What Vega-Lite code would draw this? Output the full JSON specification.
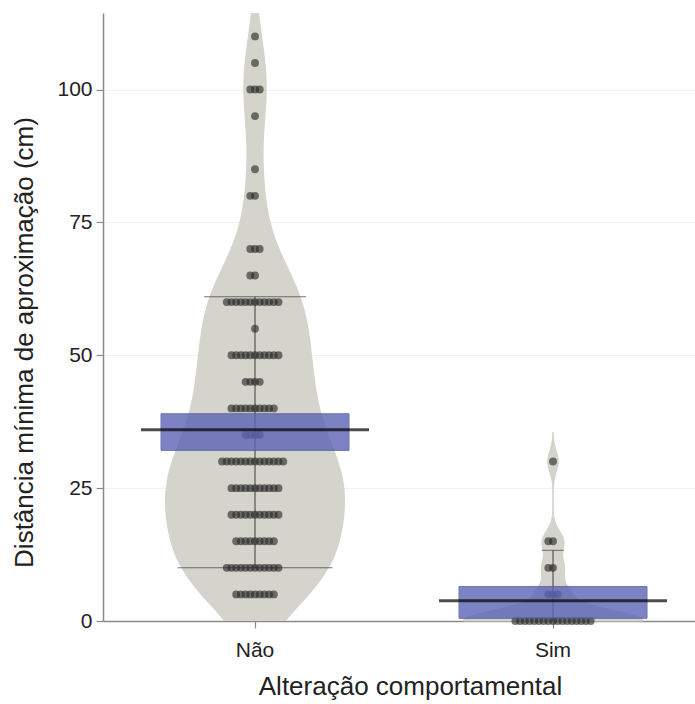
{
  "$schema": "https://vega.github.io/schema/vega-lite/v6.json",
  "autosize": "none",
  "width": 592,
  "height": 608,
  "padding": {"left": 103, "top": 13, "right": 0, "bottom": 83},
  "background": "white",
  "config": {
    "view": {"stroke": null},
    "font": "Liberation Sans"
  },
  "datasets": {
    "pontos": [
      {"grupo": "Não", "valor": 110},
      {"grupo": "Não", "valor": 105},
      {"grupo": "Não", "valor": 100}, {"grupo": "Não", "valor": 100}, {"grupo": "Não", "valor": 100},
      {"grupo": "Não", "valor": 95},
      {"grupo": "Não", "valor": 85},
      {"grupo": "Não", "valor": 80}, {"grupo": "Não", "valor": 80},
      {"grupo": "Não", "valor": 70}, {"grupo": "Não", "valor": 70}, {"grupo": "Não", "valor": 70},
      {"grupo": "Não", "valor": 65}, {"grupo": "Não", "valor": 65},
      {"grupo": "Não", "valor": 60}, {"grupo": "Não", "valor": 60}, {"grupo": "Não", "valor": 60}, {"grupo": "Não", "valor": 60},
      {"grupo": "Não", "valor": 60}, {"grupo": "Não", "valor": 60}, {"grupo": "Não", "valor": 60}, {"grupo": "Não", "valor": 60},
      {"grupo": "Não", "valor": 60}, {"grupo": "Não", "valor": 60}, {"grupo": "Não", "valor": 60}, {"grupo": "Não", "valor": 60},
      {"grupo": "Não", "valor": 55},
      {"grupo": "Não", "valor": 50}, {"grupo": "Não", "valor": 50}, {"grupo": "Não", "valor": 50}, {"grupo": "Não", "valor": 50},
      {"grupo": "Não", "valor": 50}, {"grupo": "Não", "valor": 50}, {"grupo": "Não", "valor": 50}, {"grupo": "Não", "valor": 50},
      {"grupo": "Não", "valor": 50}, {"grupo": "Não", "valor": 50}, {"grupo": "Não", "valor": 50},
      {"grupo": "Não", "valor": 45}, {"grupo": "Não", "valor": 45}, {"grupo": "Não", "valor": 45}, {"grupo": "Não", "valor": 45},
      {"grupo": "Não", "valor": 40}, {"grupo": "Não", "valor": 40}, {"grupo": "Não", "valor": 40}, {"grupo": "Não", "valor": 40},
      {"grupo": "Não", "valor": 40}, {"grupo": "Não", "valor": 40}, {"grupo": "Não", "valor": 40}, {"grupo": "Não", "valor": 40},
      {"grupo": "Não", "valor": 40}, {"grupo": "Não", "valor": 40},
      {"grupo": "Não", "valor": 35}, {"grupo": "Não", "valor": 35}, {"grupo": "Não", "valor": 35}, {"grupo": "Não", "valor": 35},
      {"grupo": "Não", "valor": 30}, {"grupo": "Não", "valor": 30}, {"grupo": "Não", "valor": 30}, {"grupo": "Não", "valor": 30},
      {"grupo": "Não", "valor": 30}, {"grupo": "Não", "valor": 30}, {"grupo": "Não", "valor": 30}, {"grupo": "Não", "valor": 30},
      {"grupo": "Não", "valor": 30}, {"grupo": "Não", "valor": 30}, {"grupo": "Não", "valor": 30}, {"grupo": "Não", "valor": 30},
      {"grupo": "Não", "valor": 30}, {"grupo": "Não", "valor": 30},
      {"grupo": "Não", "valor": 25}, {"grupo": "Não", "valor": 25}, {"grupo": "Não", "valor": 25}, {"grupo": "Não", "valor": 25},
      {"grupo": "Não", "valor": 25}, {"grupo": "Não", "valor": 25}, {"grupo": "Não", "valor": 25}, {"grupo": "Não", "valor": 25},
      {"grupo": "Não", "valor": 25}, {"grupo": "Não", "valor": 25}, {"grupo": "Não", "valor": 25},
      {"grupo": "Não", "valor": 20}, {"grupo": "Não", "valor": 20}, {"grupo": "Não", "valor": 20}, {"grupo": "Não", "valor": 20},
      {"grupo": "Não", "valor": 20}, {"grupo": "Não", "valor": 20}, {"grupo": "Não", "valor": 20}, {"grupo": "Não", "valor": 20},
      {"grupo": "Não", "valor": 20}, {"grupo": "Não", "valor": 20}, {"grupo": "Não", "valor": 20},
      {"grupo": "Não", "valor": 15}, {"grupo": "Não", "valor": 15}, {"grupo": "Não", "valor": 15}, {"grupo": "Não", "valor": 15},
      {"grupo": "Não", "valor": 15}, {"grupo": "Não", "valor": 15}, {"grupo": "Não", "valor": 15}, {"grupo": "Não", "valor": 15},
      {"grupo": "Não", "valor": 15},
      {"grupo": "Não", "valor": 10}, {"grupo": "Não", "valor": 10}, {"grupo": "Não", "valor": 10}, {"grupo": "Não", "valor": 10},
      {"grupo": "Não", "valor": 10}, {"grupo": "Não", "valor": 10}, {"grupo": "Não", "valor": 10}, {"grupo": "Não", "valor": 10},
      {"grupo": "Não", "valor": 10}, {"grupo": "Não", "valor": 10}, {"grupo": "Não", "valor": 10}, {"grupo": "Não", "valor": 10},
      {"grupo": "Não", "valor": 5}, {"grupo": "Não", "valor": 5}, {"grupo": "Não", "valor": 5}, {"grupo": "Não", "valor": 5},
      {"grupo": "Não", "valor": 5}, {"grupo": "Não", "valor": 5}, {"grupo": "Não", "valor": 5}, {"grupo": "Não", "valor": 5},
      {"grupo": "Não", "valor": 5},
      {"grupo": "Sim", "valor": 30},
      {"grupo": "Sim", "valor": 15}, {"grupo": "Sim", "valor": 15},
      {"grupo": "Sim", "valor": 10}, {"grupo": "Sim", "valor": 10},
      {"grupo": "Sim", "valor": 5}, {"grupo": "Sim", "valor": 5}, {"grupo": "Sim", "valor": 5},
      {"grupo": "Sim", "valor": 0}, {"grupo": "Sim", "valor": 0}, {"grupo": "Sim", "valor": 0}, {"grupo": "Sim", "valor": 0},
      {"grupo": "Sim", "valor": 0}, {"grupo": "Sim", "valor": 0}, {"grupo": "Sim", "valor": 0}, {"grupo": "Sim", "valor": 0},
      {"grupo": "Sim", "valor": 0}, {"grupo": "Sim", "valor": 0}, {"grupo": "Sim", "valor": 0}, {"grupo": "Sim", "valor": 0},
      {"grupo": "Sim", "valor": 0}, {"grupo": "Sim", "valor": 0}, {"grupo": "Sim", "valor": 0}, {"grupo": "Sim", "valor": 0},
      {"grupo": "Sim", "valor": 0}
    ],
    "resumo": [
      {"grupo": "Não", "media": 36.0, "li": 32.1, "ls": 39.0},
      {"grupo": "Sim", "media": 3.8, "li": 0.5, "ls": 6.5}
    ],
    "percentis": [
      {"grupo": "Não", "p10": 10, "p90": 61},
      {"grupo": "Sim", "p10": 0, "p90": 13.3}
    ]
  },
  "resolve": {"scale": {"x": "independent"}, "axis": {"x": "independent"}},
  "layer": [
    {
      "mark": {"type": "rule", "color": "#8a8a8a", "strokeWidth": 1.5},
      "encoding": {
        "x": {"datum": 0, "type": "quantitative", "scale": {"domain": [0, 1], "nice": false}, "axis": null},
        "x2": {"datum": 1},
        "y": {
          "datum": 114.4, "type": "quantitative",
          "scale": {"domain": [0, 114.4], "nice": false, "zero": true},
          "axis": {
            "title": "Distância mínima de aproximação (cm)",
            "values": [0, 25, 50, 75, 100],
            "grid": true, "gridColor": "#f2f2f2", "gridWidth": 1,
            "domainColor": "#8a8a8a", "domainWidth": 1.5,
            "tickColor": "#8a8a8a", "tickSize": 7, "tickWidth": 1.2,
            "labelFontSize": 21, "labelColor": "#222222", "labelPadding": 4,
            "titleFontSize": 26, "titleFontWeight": "normal", "titleColor": "#222222", "titlePadding": 19,
            "titleY": 329
          }
        }
      }
    },
    {
      "data": {"name": "pontos"},
      "transform": [
        {"filter": "datum.grupo == 'Não'"},
        {"density": "valor", "bandwidth": 7.5, "extent": [0, 114.4], "steps": 240}
      ],
      "mark": {"type": "area", "orient": "horizontal", "color": "#d4d4cc"},
      "encoding": {
        "y": {"field": "value", "type": "quantitative", "title": "Distância mínima de aproximação (cm)"},
        "x": {
          "field": "density", "type": "quantitative", "stack": "center",
          "scale": {"range": [62, 242], "nice": false, "zero": false},
          "axis": null
        }
      }
    },
    {
      "data": {"name": "pontos"},
      "transform": [
        {"filter": "datum.grupo == 'Sim'"},
        {"density": "valor", "bandwidth": 2, "extent": [0, 35.5], "steps": 240}
      ],
      "mark": {"type": "area", "orient": "horizontal", "color": "#d4d4cc", "stroke": "#cfcfc7", "strokeWidth": 1},
      "encoding": {
        "y": {"field": "value", "type": "quantitative", "title": "Distância mínima de aproximação (cm)"},
        "x": {
          "field": "density", "type": "quantitative", "stack": "center",
          "scale": {"range": [360, 540], "nice": false, "zero": false},
          "axis": null
        }
      }
    },
    {
      "layer": [
        {
          "data": {"name": "percentis"},
          "mark": {"type": "rule", "color": "#3a3a3a", "strokeWidth": 1},
          "encoding": {
            "x": {
              "field": "grupo", "type": "nominal",
              "scale": {"type": "band", "paddingInner": 0.7315, "paddingOuter": 0.359, "align": 0.5234},
              "axis": {
                "title": "Alteração comportamental", "labelAngle": 0,
                "domainColor": "#8a8a8a", "domainWidth": 1.5,
                "tickColor": "#8a8a8a", "tickSize": 7, "tickWidth": 1.2,
                "labelFontSize": 21, "labelColor": "#222222", "labelPadding": 11,
                "titleFontSize": 26, "titleFontWeight": "normal", "titleColor": "#222222", "titlePadding": 13,
                "titleX": 307
              }
            },
            "y": {"field": "p10", "type": "quantitative", "title": "Distância mínima de aproximação (cm)"},
            "y2": {"field": "p90"}
          }
        },
        {
          "data": {"name": "percentis"},
          "transform": [{"filter": "datum.grupo == 'Não'"}],
          "mark": {"type": "tick", "color": "#3a3a3a", "size": 102, "thickness": 1},
          "encoding": {
            "x": {"field": "grupo", "type": "nominal"},
            "y": {"field": "p90", "type": "quantitative", "title": "Distância mínima de aproximação (cm)"}
          }
        },
        {
          "data": {"name": "percentis"},
          "transform": [{"filter": "datum.grupo == 'Não'"}],
          "mark": {"type": "tick", "color": "#3a3a3a", "size": 155, "thickness": 1},
          "encoding": {
            "x": {"field": "grupo", "type": "nominal"},
            "y": {"field": "p10", "type": "quantitative", "title": "Distância mínima de aproximação (cm)"}
          }
        },
        {
          "data": {"name": "percentis"},
          "transform": [{"filter": "datum.grupo == 'Sim'"}],
          "mark": {"type": "tick", "color": "#3a3a3a", "size": 22, "thickness": 1},
          "encoding": {
            "x": {"field": "grupo", "type": "nominal"},
            "y": {"field": "p90", "type": "quantitative", "title": "Distância mínima de aproximação (cm)"}
          }
        },
        {
          "data": {"name": "pontos"},
          "transform": [
            {"window": [{"op": "row_number", "as": "ordem"}], "groupby": ["grupo", "valor"]}
          ],
          "mark": {"type": "circle", "size": 62, "color": "#2a2a2a", "opacity": 0.64},
          "encoding": {
            "x": {"field": "grupo", "type": "nominal"},
            "xOffset": {
              "field": "ordem", "type": "nominal",
              "scale": {"domain": [16, 14, 12, 10, 8, 6, 4, 2, 1, 3, 5, 7, 9, 11, 13, 15, 17]}
            },
            "y": {"field": "valor", "type": "quantitative", "title": "Distância mínima de aproximação (cm)"}
          }
        },
        {
          "data": {"name": "resumo"},
          "mark": {"type": "bar", "width": 188, "color": "#5c63b5", "opacity": 0.8, "stroke": "#4e5497", "strokeWidth": 1},
          "encoding": {
            "x": {"field": "grupo", "type": "nominal"},
            "y": {"field": "li", "type": "quantitative", "title": "Distância mínima de aproximação (cm)"},
            "y2": {"field": "ls"}
          }
        },
        {
          "data": {"name": "resumo"},
          "mark": {"type": "tick", "color": "#000000", "size": 228, "thickness": 3},
          "encoding": {
            "x": {"field": "grupo", "type": "nominal"},
            "y": {"field": "media", "type": "quantitative", "title": "Distância mínima de aproximação (cm)"}
          }
        }
      ]
    }
  ]
}
